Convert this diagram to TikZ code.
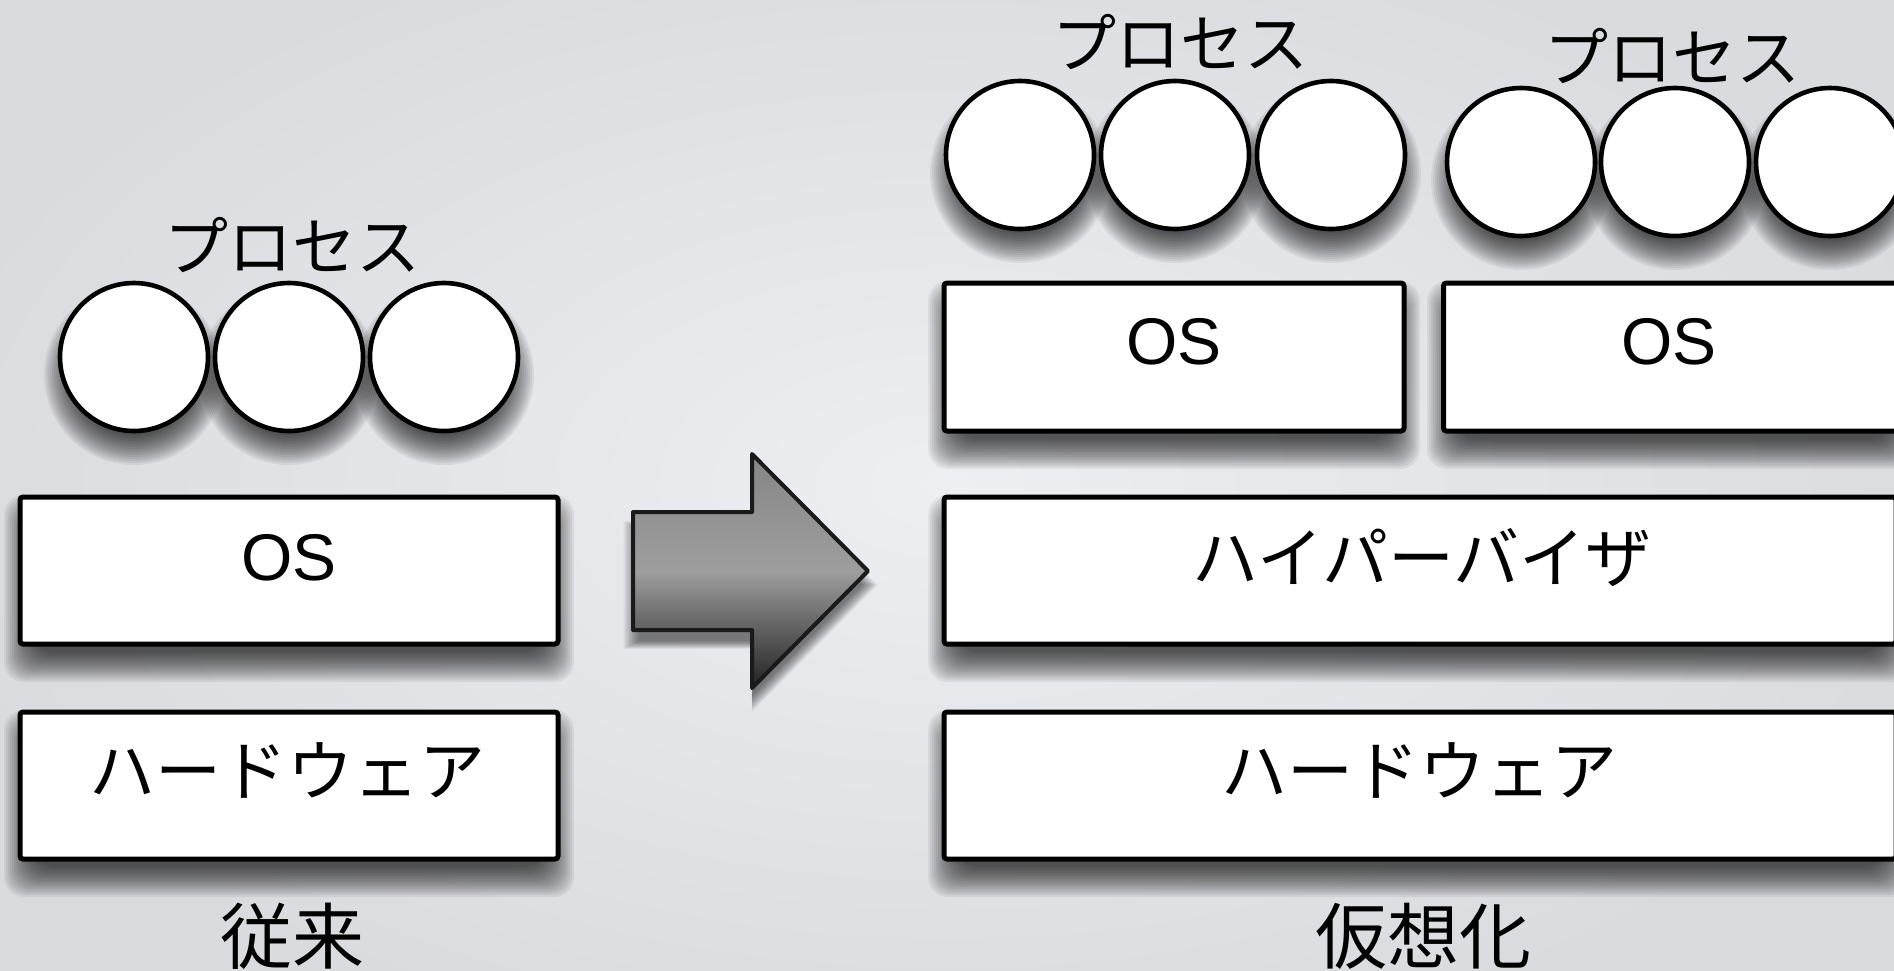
\documentclass[tikz,border=0pt]{standalone}
\usepackage{fontspec}
\newfontfamily\jpfont{Noto Sans CJK JP}
\newfontfamily\osfont{Liberation Sans}
\definecolor{bgin}{HTML}{EEEFF2}
\definecolor{bgout}{HTML}{DADBDF}
\definecolor{arrtop}{HTML}{858585}
\definecolor{arrmid}{HTML}{9E9E9E}
\definecolor{arrbot}{HTML}{222222}
\definecolor{arrline}{HTML}{1A1A1A}
\tikzset{
  layerbox/.style={draw=black, line width=2.5pt, fill=white, rectangle, inner sep=0pt, rounded corners=1.5pt},
  proc/.style={draw=black, line width=2.3pt, fill=white, circle, inner sep=0pt, minimum size=74pt},
  jplbl/.style={font=\jpfont\fontsize{32}{32}\selectfont, inner sep=0pt},
  boxlbl/.style={font=\jpfont\fontsize{33}{33}\selectfont, inner sep=0pt},
  oslbl/.style={font=\osfont\fontsize{33}{33}\selectfont, inner sep=0pt},
  caplbl/.style={font=\jpfont\fontsize{36}{36}\selectfont, inner sep=0pt},
  shadowlayer/.style={fill=black, opacity=0.06},
}
\newcommand\rectshadow[4]{%
  \foreach \k in {0,...,15}{%
    \fill[shadowlayer, rounded corners=10pt] ({#1+4-18+2*\k},{#2+18-18+2*\k}) rectangle ({#3-4+18-2*\k},{#4+18+18-2*\k});
  }}
\newcommand\circshadow[2]{%
  \foreach \k in {0,...,15}{%
    \fill[shadowlayer] (#1,{#2+18}) circle[radius={(45-\k)*1pt}];
  }}
\begin{document}
\begin{tikzpicture}[x=0.5pt, y=-0.5pt]
\useasboundingbox (0,0) rectangle (1894,970);
\clip (0,0) rectangle (1894,970);
\shade[inner color=bgin, outer color=bgout] (-100,-100) rectangle (1994,1070);

% ---------- shadows ----------
\rectshadow{18}{495}{560}{646}
\rectshadow{18}{710}{560}{861}
\rectshadow{942}{281}{1406}{433}
\rectshadow{1441}{281}{1906}{433}
\rectshadow{942}{495}{1898}{646}
\rectshadow{942}{710}{1898}{861}
\foreach \cx in {134,289,444}{\circshadow{\cx}{357}}
\foreach \cx in {1020,1175,1331}{\circshadow{\cx}{155}}
\foreach \cx in {1521,1675,1830}{\circshadow{\cx}{162}}
\foreach \k [evaluate=\k as \s using 1.08-0.012*\k] in {0,...,11}{%
  \fill[fill=black, opacity=0.05, yshift=-7pt, scale around={\s:(750,571)}]
    (633,512) -- (752,512) -- (752,454) -- (868,571) -- (752,688) -- (752,630) -- (633,630) -- cycle;
}

% ---------- left: conventional ----------
\node[layerbox, minimum width=269pt, minimum height=73.5pt] (los) at (289,570.5) {};
\node[layerbox, minimum width=269pt, minimum height=73.5pt] (lhw) at (289,785.5) {};
\node[oslbl] (loslbl) at (289,558) {OS};
\node[boxlbl] (lhwlbl) at (287,770) {ハードウェア};
\node[proc] (lp1) at (134,357) {};
\node[proc] (lp2) at (289,357) {};
\node[proc] (lp3) at (444,357) {};
\node[jplbl] (lplbl) at (292,245) {プロセス};
\node[caplbl] (lcap) at (292,936) {従来};

% ---------- arrow ----------
\shade[top color=arrtop, bottom color=arrbot, middle color=arrmid, draw=arrline, line width=2pt, line join=round]
  (633,512) -- (752,512) -- (752,454) -- (868,571) -- (752,688) -- (752,630) -- (633,630) -- cycle;

% ---------- right: virtualised ----------
\node[layerbox, minimum width=230pt, minimum height=74pt] (ros1) at (1174,357) {};
\node[layerbox, minimum width=230pt, minimum height=74pt] (ros2) at (1673.5,357) {};
\node[layerbox, minimum width=476pt, minimum height=73.5pt] (hyp) at (1420,570.5) {};
\node[layerbox, minimum width=476pt, minimum height=73.5pt] (rhw) at (1420,785.5) {};
\node[oslbl] (ros1lbl) at (1174,342) {OS};
\node[oslbl] (ros2lbl) at (1669,342) {OS};
\node[boxlbl] (hyplbl) at (1422,558) {ハイパーバイザ};
\node[boxlbl] (rhwlbl) at (1419,770) {ハードウェア};
\node[proc] (ra1) at (1020,155) {};
\node[proc] (ra2) at (1175,155) {};
\node[proc] (ra3) at (1331,155) {};
\node[proc] (rb1) at (1521,162) {};
\node[proc] (rb2) at (1675,162) {};
\node[proc] (rb3) at (1830,162) {};
\node[jplbl] (ralbl) at (1180,42) {プロセス};
\node[jplbl] (rblbl) at (1672,56) {プロセス};
\node[caplbl] (rcap) at (1423,936) {仮想化};
\end{tikzpicture}
\end{document}
